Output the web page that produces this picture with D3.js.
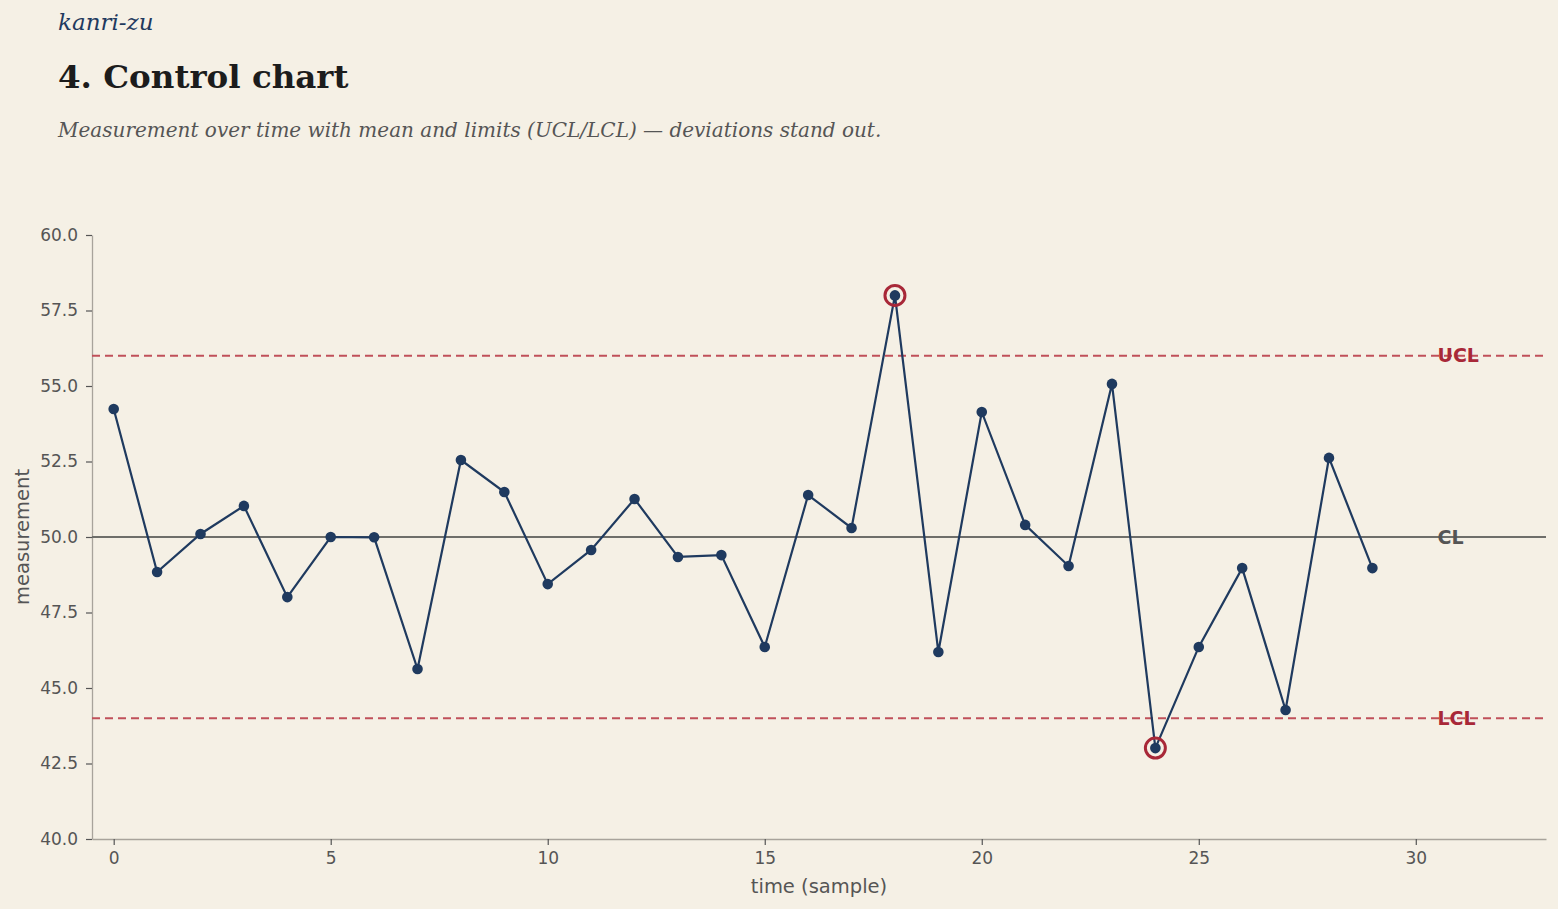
<!DOCTYPE html>
<html>
<head>
<meta charset="utf-8">
<script src="https://cdn.jsdelivr.net/npm/d3@7"></script>
<style>
  body { margin: 0; background: #f5f0e5; }
  svg { display: block; }
</style>
</head>
<body>
<svg id="chart"></svg>
<script>
// data
const samples = d3.range(0, 30);
const measurement = [54.24, 48.84, 50.10, 51.03, 48.01, 50.00, 49.99, 45.63, 52.55, 51.49,
  48.44, 49.57, 51.26, 49.34, 49.40, 46.36, 51.39, 50.30, 58.00, 46.19,
  54.14, 50.40, 49.04, 55.07, 43.01, 46.36, 48.97, 44.27, 52.62, 48.97];
const centerLine = 50;
const ucl = 56;
const lcl = 44;
const yTicks = [40, 42.5, 45, 47.5, 50, 52.5, 55, 57.5, 60];
const xTicks = [0, 5, 10, 15, 20, 25, 30];

const W = 1558, H = 909;
const m = { left: 92, right: 12, top: 235, bottom: 70 };
const navy = '#1f3a5f', red = '#a82838', grey = '#555555';

const svg = d3.select('#chart').attr('width', W).attr('height', H);

svg.append('text').attr('x', 58).attr('y', 30)
  .attr('font-family', 'DejaVu Serif').attr('font-style', 'italic')
  .attr('font-size', 23).attr('fill', navy).text('kanri-zu');
svg.append('text').attr('x', 58).attr('y', 88)
  .attr('font-family', 'DejaVu Serif').attr('font-weight', 'bold')
  .attr('font-size', 32.5).attr('fill', '#1c1c1c').text('4. Control chart');
svg.append('text').attr('x', 58).attr('y', 137)
  .attr('font-family', 'DejaVu Serif').attr('font-style', 'italic')
  .attr('font-size', 20).attr('fill', grey)
  .text('Measurement over time with mean and limits (UCL/LCL) — deviations stand out.');

const x = d3.scaleLinear().domain([-0.5, 33]).range([m.left, W - m.right]);
const y = d3.scaleLinear().domain([40, 60]).range([H - m.bottom, m.top]);

const g = svg.append('g');

// axes
const xAxis = g.append('g').attr('transform', `translate(0,${H - m.bottom})`)
  .call(d3.axisBottom(x).tickValues(xTicks).tickSize(6).tickPadding(7).tickSizeOuter(0));
const yAxis = g.append('g').attr('transform', `translate(${m.left},0)`)
  .call(d3.axisLeft(y).tickValues(yTicks).tickFormat(d3.format('.1f')).tickSize(6).tickPadding(8).tickSizeOuter(0));
[xAxis, yAxis].forEach(a => {
  a.select('.domain').attr('stroke', '#a8a39b').attr('stroke-width', 1.3);
  a.selectAll('.tick line').attr('stroke', grey).attr('stroke-width', 1.2);
  a.selectAll('.tick text').attr('font-family', 'DejaVu Sans').attr('font-size', 17).attr('fill', grey);
});

g.append('text').attr('x', (m.left + W - m.right) / 2).attr('y', H - 16)
  .attr('text-anchor', 'middle').attr('font-family', 'DejaVu Sans')
  .attr('font-size', 19.5).attr('fill', grey).text('time (sample)');
g.append('text').attr('transform', `translate(29,${(m.top + H - m.bottom) / 2}) rotate(-90)`)
  .attr('text-anchor', 'middle').attr('font-family', 'DejaVu Sans')
  .attr('font-size', 19.5).attr('fill', grey).text('measurement');

// reference lines
const refs = [
  { v: ucl, label: 'UCL', color: '#c0505a', text: red, dash: '8,5' },
  { v: centerLine, label: 'CL', color: '#6e6e6a', text: grey, dash: null },
  { v: lcl, label: 'LCL', color: '#c0505a', text: red, dash: '8,5' }
];
refs.forEach(r => {
  g.append('line').attr('x1', m.left).attr('x2', W - m.right)
    .attr('y1', y(r.v)).attr('y2', y(r.v))
    .attr('stroke', r.color).attr('stroke-width', 2)
    .attr('stroke-dasharray', r.dash);
  g.append('text').attr('x', x(30.5)).attr('y', y(r.v)).attr('dy', '0.35em')
    .attr('font-family', 'DejaVu Sans').attr('font-weight', 'bold')
    .attr('font-size', 19).attr('fill', r.text).text(r.label);
});

// series
const line = d3.line().x((d, i) => x(samples[i])).y(d => y(d));
g.append('path').datum(measurement)
  .attr('fill', 'none').attr('stroke', navy).attr('stroke-width', 2.2).attr('d', line);

g.selectAll('.pt').data(measurement).join('circle')
  .attr('cx', (d, i) => x(samples[i])).attr('cy', d => y(d))
  .attr('r', 5.3).attr('fill', navy);

g.selectAll('.out').data(measurement.map((v, i) => [i, v]).filter(d => d[1] > ucl || d[1] < lcl))
  .join('circle')
  .attr('cx', d => x(samples[d[0]])).attr('cy', d => y(d[1]))
  .attr('r', 10).attr('fill', 'none').attr('stroke', red).attr('stroke-width', 3);
</script>
</body>
</html>
